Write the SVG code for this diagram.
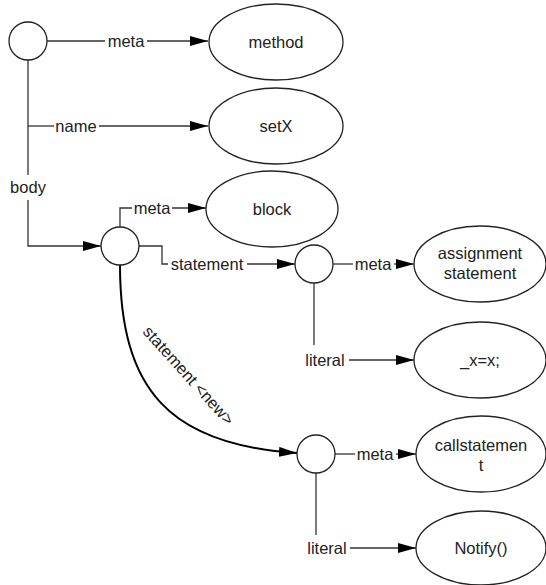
<svg xmlns="http://www.w3.org/2000/svg" width="546" height="585" viewBox="0 0 546 585">
<defs>
<marker id="arr" viewBox="0 0 18 10" refX="18" refY="5" markerWidth="18" markerHeight="10" markerUnits="userSpaceOnUse" orient="auto">
<path d="M0,0 L18,5 L0,10 Z" fill="#000"/>
</marker>
</defs>
<style>
text{font-family:"Liberation Sans",Arial,sans-serif;font-size:16.5px;fill:#222;text-anchor:middle}
.n{fill:#fff;stroke:#222;stroke-width:1.3}
.c{fill:none;stroke:#333;stroke-width:1.3}
.a{marker-end:url(#arr)}
.bold{fill:none;stroke:#000;stroke-width:2}
</style>
<rect width="546" height="585" fill="#fff"/>
<g id="connectors">
<path class="c" d="M47,41 H105"/>
<text x="126" y="47">meta</text>
<path class="c a" d="M147,41 H208"/>
<path class="c" d="M28,60 V175"/>
<path class="c" d="M28,126 H54"/>
<text x="76" y="132">name</text>
<path class="c a" d="M99,126 H208"/>
<text x="28" y="193">body</text>
<path class="c a" d="M28,200 V246 H101"/>
<path class="c" d="M120,227 V208 H132"/>
<text x="152" y="214">meta</text>
<path class="c a" d="M172,208 H206"/>
<path class="c" d="M139,246 H162 V264 H168"/>
<text x="207" y="270">statement</text>
<path class="c a" d="M247,264 H295"/>
<path class="c" d="M333,264 H353"/>
<text x="373" y="270">meta</text>
<path class="c a" d="M394,264 H414"/>
<path class="c" d="M314,283 V345"/>
<text x="325" y="366">literal</text>
<path class="c a" d="M349,360 H414"/>
<path class="bold a" d="M120,265 C120,390 170,445 297,453"/>
<text transform="translate(188,376) rotate(48)" y="5">statement &lt;new&gt;</text>
<path class="c" d="M335,454 H355"/>
<text x="375" y="460">meta</text>
<path class="c a" d="M396,454 H416"/>
<path class="c" d="M316,473 V535"/>
<text x="327" y="554">literal</text>
<path class="c a" d="M350,548 H416"/>
</g>
<g id="root"><circle class="n" cx="28" cy="41" r="19"/></g>
<g id="method"><ellipse class="n" cx="276" cy="42" rx="67" ry="38"/><text x="276" y="48">method</text></g>
<g id="setX"><ellipse class="n" cx="276" cy="126" rx="67" ry="38"/><text x="276" y="132">setX</text></g>
<g id="body"><circle class="n" cx="120" cy="246" r="19"/></g>
<g id="block"><ellipse class="n" cx="272" cy="209" rx="66" ry="38"/><text x="272" y="215">block</text></g>
<g id="stmt1"><circle class="n" cx="314" cy="264" r="19"/></g>
<g id="assign"><ellipse class="n" cx="480" cy="264" rx="66" ry="38"/><text x="480" y="259">assignment</text><text x="480" y="279">statement</text></g>
<g id="lit1"><ellipse class="n" cx="480" cy="360" rx="66" ry="38"/><text x="480" y="366">_x=x;</text></g>
<g id="stmt2"><circle class="n" cx="316" cy="454" r="19"/></g>
<g id="call"><ellipse class="n" cx="481" cy="454" rx="65" ry="38"/><text x="481" y="451">callstatemen</text><text x="481" y="471">t</text></g>
<g id="notify"><ellipse class="n" cx="481" cy="548" rx="65" ry="37"/><text x="481" y="554">Notify()</text></g>
</svg>
